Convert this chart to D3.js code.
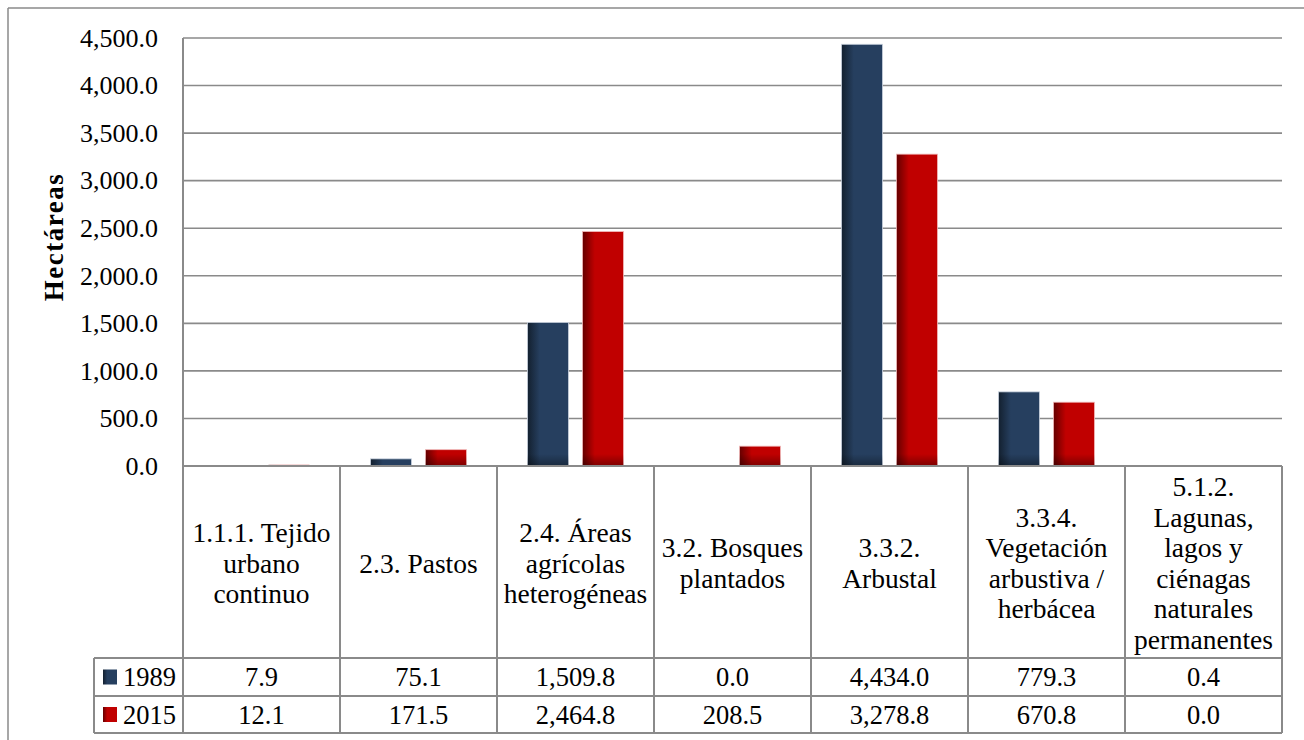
<!DOCTYPE html>
<html>
<head>
<meta charset="utf-8">
<script src="https://cdn.jsdelivr.net/npm/d3@7/dist/d3.min.js"></script>
<style>
  html, body { margin: 0; padding: 0; background: #fff; }
  svg { display: block; font-family: "Liberation Serif", "Times New Roman", serif; }
</style>
</head>
<body>
<svg id="chart" width="1304" height="740"></svg>
<script>
// Land-cover classes (table header lines)
const categories = [
  ["1.1.1. Tejido", "urbano", "continuo"],
  ["2.3. Pastos"],
  ["2.4. Áreas", "agrícolas", "heterogéneas"],
  ["3.2. Bosques", "plantados"],
  ["3.3.2.", "Arbustal"],
  ["3.3.4.", "Vegetación", "arbustiva /", "herbácea"],
  ["5.1.2.", "Lagunas,", "lagos y", "ciénagas", "naturales", "permanentes"]
];
const seriesNames = ["1989", "2015"];
const values1989 = [7.9, 75.1, 1509.8, 0.0, 4434.0, 779.3, 0.4];
const values2015 = [12.1, 171.5, 2464.8, 208.5, 3278.8, 670.8, 0.0];
const yTicks = [0, 500, 1000, 1500, 2000, 2500, 3000, 3500, 4000, 4500];
const yTitle = "Hectáreas";

const seriesValues = [values1989, values2015];
const fmt = d3.format(",.1f");
const serif = "Liberation Serif, Times New Roman, serif";

const svg = d3.select("#chart");
const plot = { left: 183, right: 1282, top: 38, bottom: 466 };
const table = { legendLeft: 94, row1: 658, row2: 696, bottom: 733 };
const gridColor = "#8a8a8a";

// Gradients for bars and legend keys
const defs = svg.append("defs");
const palette = [
  { id: "g1989", dark: "#13202f", main: "#263f5f" },
  { id: "g2015", dark: "#650000", main: "#c00000" }
];
palette.forEach(p => {
  const g = defs.append("linearGradient").attr("id", p.id)
    .attr("x1", "0").attr("x2", "1").attr("y1", "0").attr("y2", "0");
  g.append("stop").attr("offset", "0%").attr("stop-color", p.dark);
  g.append("stop").attr("offset", "30%").attr("stop-color", p.main);
  g.append("stop").attr("offset", "100%").attr("stop-color", p.main);
});
const shade = defs.append("linearGradient").attr("id", "bottomShade")
  .attr("x1", "0").attr("x2", "0").attr("y1", "0").attr("y2", "1");
shade.append("stop").attr("offset", "0%").attr("stop-color", "#000").attr("stop-opacity", 0);
shade.append("stop").attr("offset", "100%").attr("stop-color", "#000").attr("stop-opacity", 0.35);

// Outer chart border (top and left edges visible)
svg.append("line").attr("x1", 8).attr("y1", 8).attr("x2", 1304).attr("y2", 8)
  .attr("stroke", gridColor).attr("stroke-width", 1.5);
svg.append("line").attr("x1", 8).attr("y1", 8).attr("x2", 8).attr("y2", 740)
  .attr("stroke", gridColor).attr("stroke-width", 1.5);

// Scales
const y = d3.scaleLinear().domain([0, 4500]).range([plot.bottom, plot.top]);
const x0 = d3.scaleBand().domain(d3.range(categories.length))
  .range([plot.left, plot.right]).padding(0);
const outer = 30.5;
const x1 = d3.scaleBand().domain(seriesNames)
  .range([outer, x0.bandwidth() - outer]).paddingInner(0.2545).paddingOuter(0);

// Gridlines
svg.append("g").selectAll("line").data(yTicks).join("line")
  .attr("x1", plot.left).attr("x2", plot.right)
  .attr("y1", d => y(d)).attr("y2", d => y(d))
  .attr("stroke", gridColor).attr("stroke-width", 1.6);

// Y axis labels
const yAxis = d3.axisLeft(y).tickValues(yTicks).tickFormat(fmt).tickSize(0).tickPadding(25);
const yg = svg.append("g").attr("transform", `translate(${plot.left},0)`).call(yAxis);
yg.attr("font-family", serif);
yg.select(".domain").remove();
yg.selectAll("text").attr("font-size", 26).attr("fill", "#000")
  .attr("font-family", serif);

// Y axis title
svg.append("text")
  .attr("transform", "translate(63,237) rotate(-90)")
  .attr("text-anchor", "middle")
  .attr("font-family", serif)
  .attr("font-size", 27).attr("font-weight", "bold").attr("fill", "#000")
  .attr("letter-spacing", 1.5)
  .text(yTitle);

// Bars
seriesNames.forEach((name, si) => {
  const g = svg.append("g");
  const data = seriesValues[si].map((v, i) => ({ v, i }));
  g.selectAll("rect.bar").data(data).join("rect")
    .attr("class", "bar")
    .attr("x", d => x0(d.i) + x1(name))
    .attr("width", x1.bandwidth())
    .attr("y", d => y(d.v))
    .attr("height", d => y(0) - y(d.v))
    .attr("fill", `url(#${palette[si].id})`)
    .attr("stroke", si === 0 ? "#c9d2de" : "#f0b8b8")
    .attr("stroke-width", d => (y(0) - y(d.v)) > 2 ? 0.8 : 0);
  // darkening near the base
  g.selectAll("rect.shade").data(data.filter(d => y(0) - y(d.v) > 12)).join("rect")
    .attr("class", "shade")
    .attr("x", d => x0(d.i) + x1(name))
    .attr("width", x1.bandwidth())
    .attr("y", y(0) - 12)
    .attr("height", 12)
    .attr("fill", "url(#bottomShade)");
});

// Axis line at zero
svg.append("line").attr("x1", plot.left).attr("x2", plot.right)
  .attr("y1", plot.bottom).attr("y2", plot.bottom)
  .attr("stroke", gridColor).attr("stroke-width", 2);

// Data table grid
const tg = svg.append("g").attr("stroke", gridColor).attr("stroke-width", 2);
const boundaries = d3.range(categories.length + 1).map(i =>
  i < categories.length ? x0(i) : plot.right);
tg.selectAll("line.v").data(boundaries).join("line")
  .attr("class", "v")
  .attr("x1", d => d).attr("x2", d => d)
  .attr("y1", (d, i) => i === 0 ? plot.top : plot.bottom)
  .attr("y2", table.bottom);
tg.append("line").attr("x1", table.legendLeft).attr("x2", table.legendLeft)
  .attr("y1", table.row1).attr("y2", table.bottom);
[table.row1, table.row2, table.bottom].forEach(yy => {
  tg.append("line").attr("x1", table.legendLeft).attr("x2", plot.right)
    .attr("y1", yy).attr("y2", yy);
});

// Category header text
const lineH = 30.6;
const headerMid = (plot.bottom + table.row1) / 2 + 1;
const hdr = svg.append("g").attr("font-size", 27.5).attr("fill", "#000")
  .attr("text-anchor", "middle").attr("font-family", serif);
categories.forEach((lines, i) => {
  const cx = x0(i) + x0.bandwidth() / 2;
  const t = hdr.append("text").attr("x", cx);
  lines.forEach((ln, k) => {
    t.append("tspan").attr("x", cx)
      .attr("y", headerMid - (lines.length - 1) * lineH / 2 + k * lineH)
      .attr("dominant-baseline", "central")
      .text(ln);
  });
});

// Value rows with legend keys
const rowMids = [(table.row1 + table.row2) / 2, (table.row2 + table.bottom) / 2];
seriesNames.forEach((name, si) => {
  const ym = rowMids[si];
  svg.append("rect").attr("x", 103).attr("y", ym - 7.5).attr("width", 14).attr("height", 15)
    .attr("fill", `url(#${palette[si].id})`);
  svg.append("text").attr("x", 123).attr("y", ym).attr("dominant-baseline", "central")
    .attr("font-family", serif)
    .attr("font-size", 26.5).attr("fill", "#000").text(name);
  svg.append("g").selectAll("text").data(seriesValues[si]).join("text")
    .attr("x", (d, i) => x0(i) + x0.bandwidth() / 2)
    .attr("y", ym)
    .attr("dominant-baseline", "central")
    .attr("text-anchor", "middle")
    .attr("font-family", serif)
    .attr("font-size", 26.5).attr("fill", "#000")
    .text(d => fmt(d));
});
</script>
</body>
</html>
